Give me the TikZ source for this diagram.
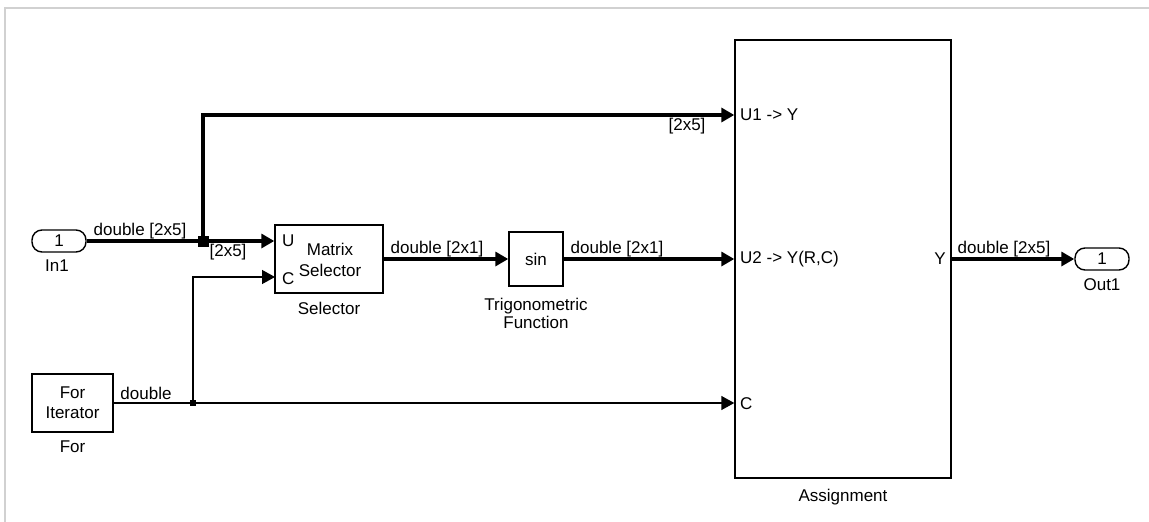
\documentclass[tikz,border=0pt]{standalone}
\usepackage{fontspec}
\setmainfont{Liberation Sans}
\usetikzlibrary{arrows.meta}

\begin{document}
\begin{tikzpicture}[x=1pt,y=-1pt,
    font=\fontsize{17}{20}\selectfont,
    blk/.style={draw, line width=1.4pt, inner sep=0pt, align=center},
    port/.style={draw, line width=1.4pt, rounded corners=10pt,
      minimum width=54pt, minimum height=22pt, inner sep=0pt},
    bus/.style={line width=4pt},
    wire/.style={line width=1.4pt},
    sg/.style={-{Triangle[length=13pt,width=14pt]}}]
  \useasboundingbox (0,0) rectangle (1149,522);
  \draw[line width=2pt, black!18] (5,522) -- (5,8) -- (1149,8);
  % blocks
  \node[port] (in1) at (59,241) {1};
  \node at (57,266) {In1};
  \node[port] (out1) at (1102,259) {1};
  \node at (1102,285) {Out1};
  \node[blk, minimum width=108pt, minimum height=68pt] (sel) at (329,259) {};
  \node at (330,260) [align=center, font=\fontsize{17}{21}\selectfont] {Matrix\\Selector};
  \node at (329,308) {Selector};
  \node[blk, minimum width=54pt, minimum height=54pt] (sin) at (536,259) {sin};
  \node at (536,313) [align=center, font=\fontsize{17}{18}\selectfont] {Trigonometric\\Function};
  \node[blk, minimum width=216pt, minimum height=438pt] (asg) at (843,259) {};
  \node at (843,497) {Assignment};
  \node[blk, minimum width=81pt, minimum height=58pt] (for) at (72.5,403)
    [font=\fontsize{17}{20}\selectfont] {For\\Iterator};
  \node at (72.5,447) {For};
  % port labels
  \node at (281,241) [anchor=west, inner sep=1pt] {U} ;
  \node at (281,279) [anchor=west, inner sep=1pt] {C};
  \node at (739,115) [anchor=west, inner sep=1pt] {U1 -> Y};
  \node at (739,259) [anchor=west, inner sep=1pt] {U2 -> Y(R,C)};
  \node at (739,404) [anchor=west, inner sep=1pt] {C};
  \node at (947,259) [anchor=east, inner sep=1pt] {Y};
  % signals
  \coordinate (j1) at (203,241);
  \coordinate (j2) at (193,403);
  \coordinate (up) at (203,115);
  \coordinate (cin) at (275,277);
  \draw[bus] (in1.east) -- (j1);
  \draw[bus, sg] (j1) -- (sel.west |- j1);
  \draw[bus, sg] (j1) -- (up) -- (asg.west |- up);
  \fill (j1) +(-5.5,-5.5) rectangle +(5.5,5.5);
  \draw[bus, sg] (sel.east) -- (sin.west);
  \draw[bus, sg] (sin.east) -- (asg.west |- sin.east);
  \draw[bus, sg] (asg.east |- out1.west) -- (out1.west);
  \draw[wire, sg] (for.east) -- (asg.west |- for.east);
  \draw[wire, sg] (j2) -- (j2 |- cin) -- (cin);
  \fill (j2) +(-3,-3) rectangle +(3,3);
  % signal labels
  \node at (140,231) {double [2x5]};
  \node at (228,252) {[2x5]};
  \node at (687,126) {[2x5]};
  \node at (437,249) {double [2x1]};
  \node at (617,249) {double [2x1]};
  \node at (1004,249) {double [2x5]};
  \node at (146,393) {double};
\end{tikzpicture}
\end{document}
